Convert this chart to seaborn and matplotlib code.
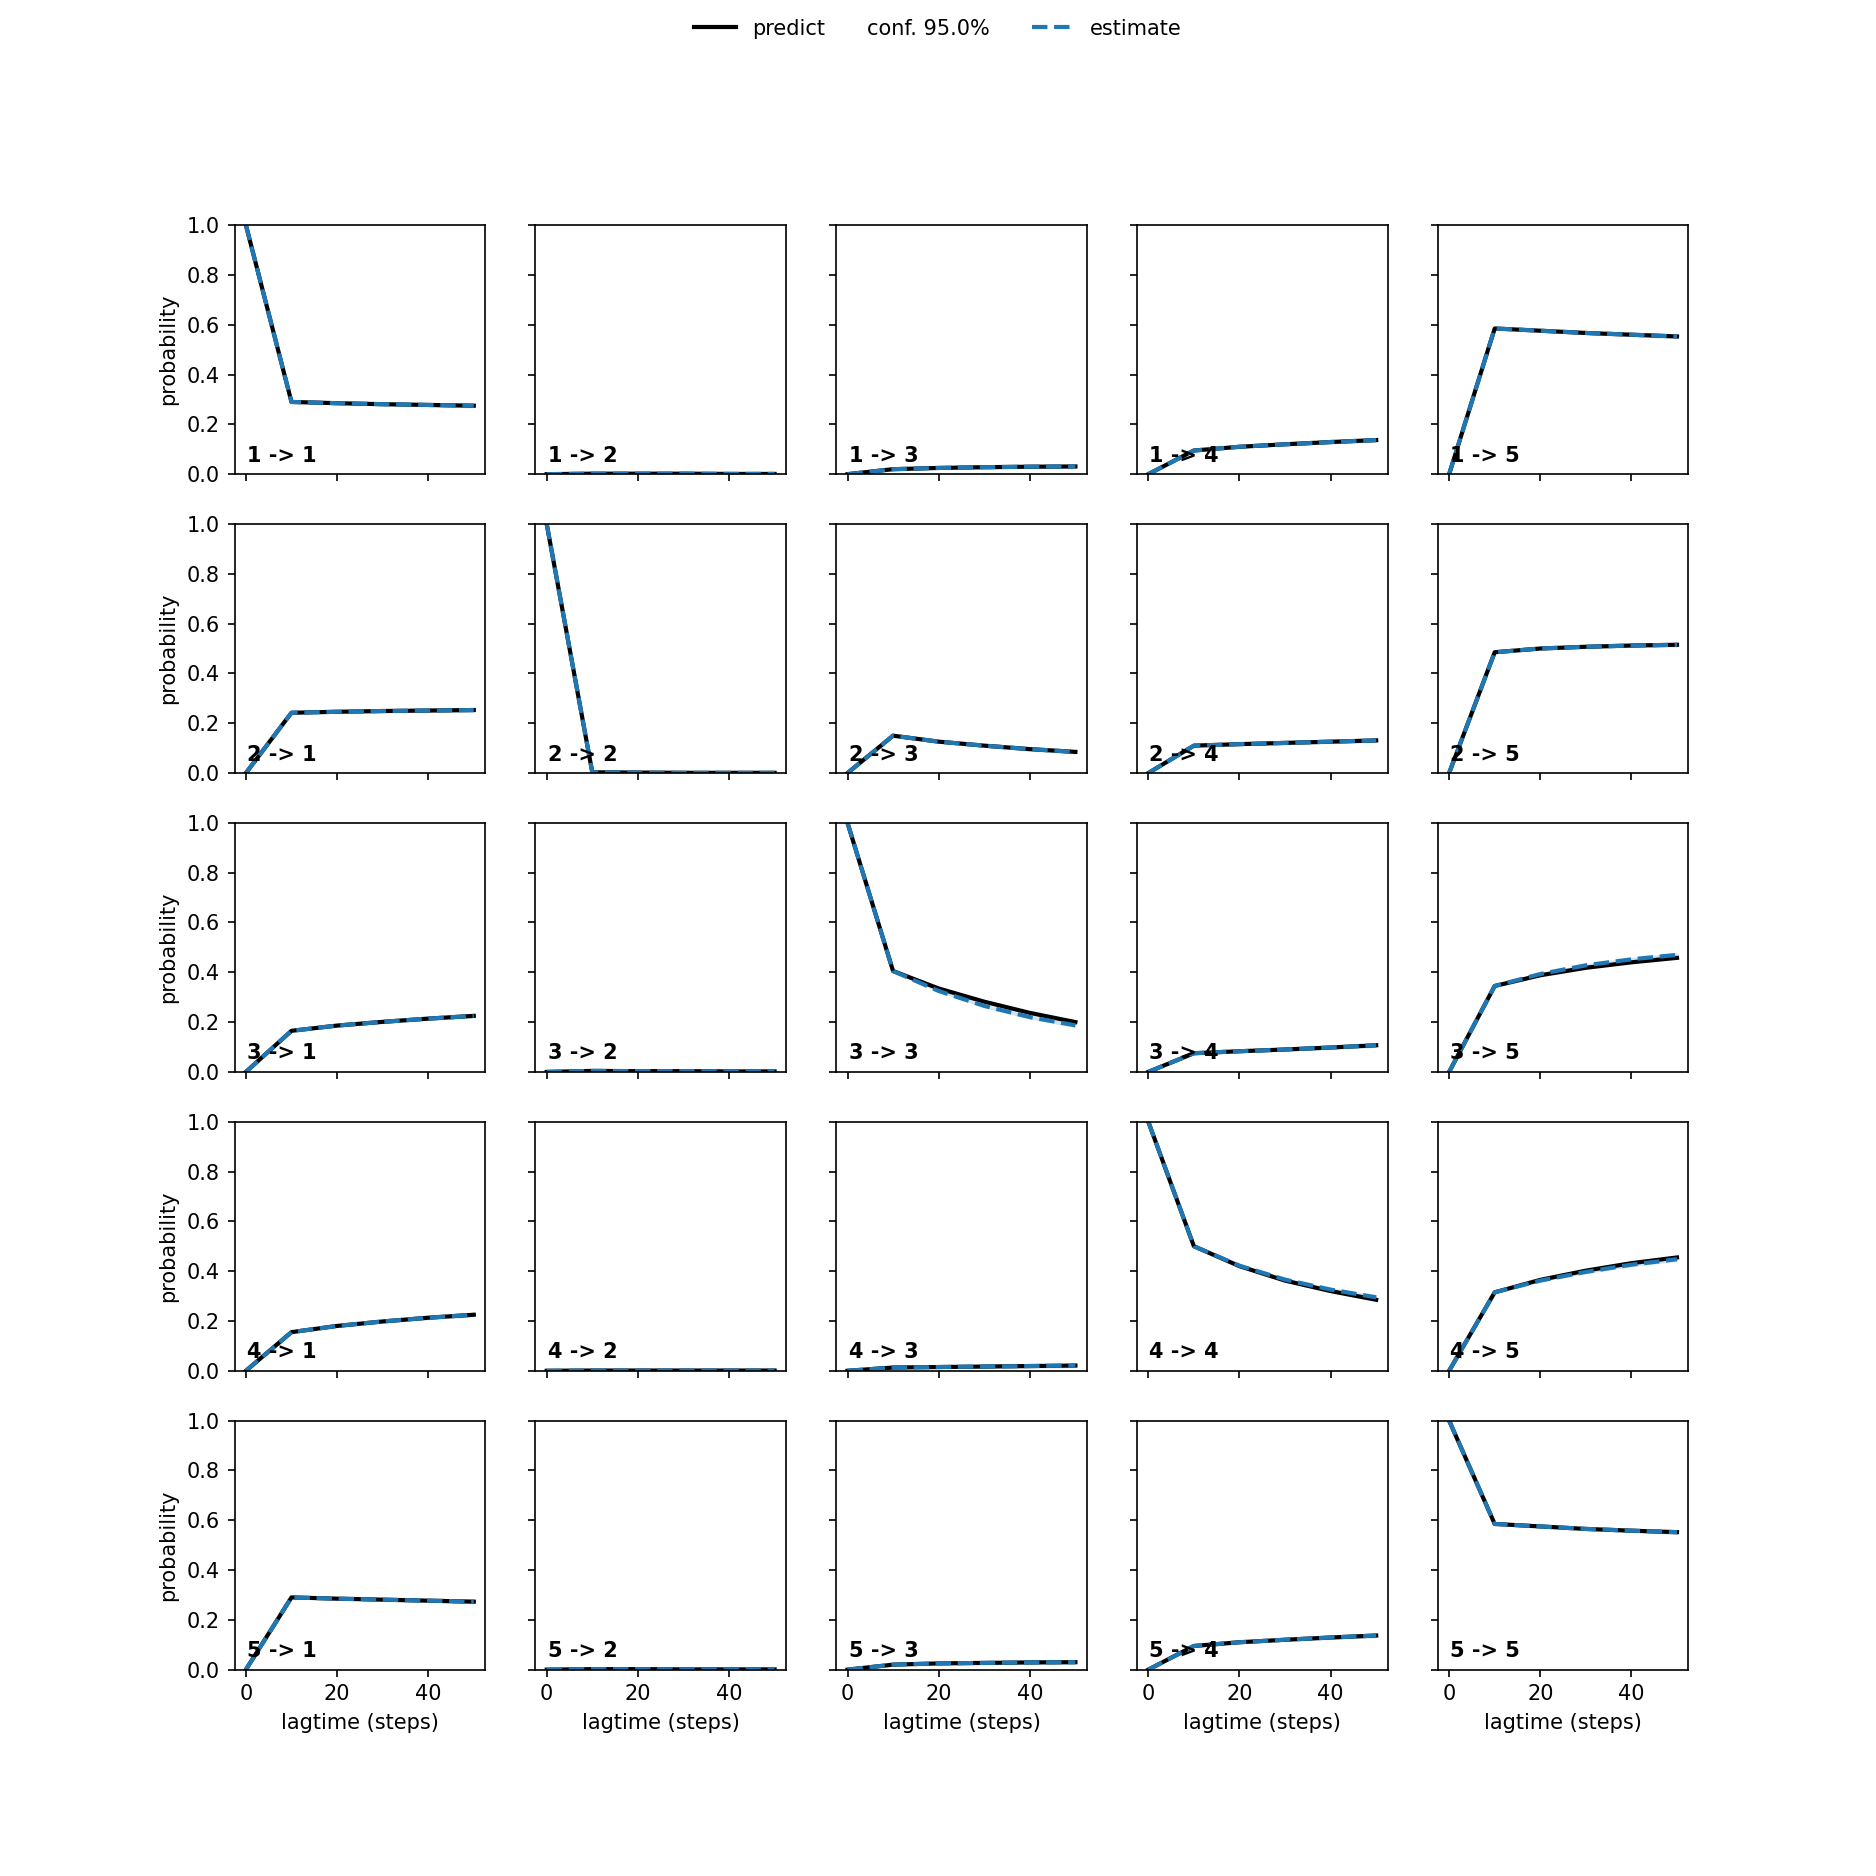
import numpy as np
import pandas as pd
import matplotlib
matplotlib.use('Agg')
import matplotlib.pyplot as plt
import seaborn as sns
from matplotlib.lines import Line2D
from matplotlib.patches import Patch

# lag times in steps
lags = [0, 10, 20, 30, 40, 50]
states = [1, 2, 3, 4, 5]

# model prediction, one list per (from, to) pair
predict = {
    (1, 1): [1.0, 0.290, 0.285, 0.281, 0.278, 0.275],
    (1, 2): [0.0, 0.002, 0.002, 0.002, 0.001, 0.001],
    (1, 3): [0.0, 0.020, 0.025, 0.028, 0.030, 0.031],
    (1, 4): [0.0, 0.095, 0.110, 0.120, 0.129, 0.137],
    (1, 5): [0.0, 0.585, 0.576, 0.567, 0.560, 0.553],
    (2, 1): [0.0, 0.242, 0.246, 0.249, 0.251, 0.253],
    (2, 2): [1.0, 0.003, 0.002, 0.001, 0.001, 0.001],
    (2, 3): [0.0, 0.150, 0.126, 0.110, 0.096, 0.085],
    (2, 4): [0.0, 0.110, 0.116, 0.121, 0.126, 0.131],
    (2, 5): [0.0, 0.485, 0.500, 0.507, 0.512, 0.515],
    (3, 1): [0.0, 0.165, 0.186, 0.201, 0.214, 0.225],
    (3, 2): [0.0, 0.004, 0.003, 0.003, 0.002, 0.002],
    (3, 3): [1.0, 0.405, 0.335, 0.282, 0.237, 0.200],
    (3, 4): [0.0, 0.075, 0.083, 0.090, 0.098, 0.107],
    (3, 5): [0.0, 0.345, 0.388, 0.418, 0.440, 0.458],
    (4, 1): [0.0, 0.155, 0.180, 0.198, 0.213, 0.225],
    (4, 2): [0.0, 0.001, 0.001, 0.001, 0.001, 0.001],
    (4, 3): [0.0, 0.013, 0.015, 0.017, 0.019, 0.021],
    (4, 4): [1.0, 0.500, 0.420, 0.362, 0.320, 0.285],
    (4, 5): [0.0, 0.315, 0.365, 0.402, 0.432, 0.455],
    (5, 1): [0.0, 0.290, 0.285, 0.281, 0.277, 0.273],
    (5, 2): [0.0, 0.002, 0.002, 0.001, 0.001, 0.001],
    (5, 3): [0.0, 0.020, 0.025, 0.027, 0.029, 0.030],
    (5, 4): [0.0, 0.095, 0.110, 0.120, 0.129, 0.137],
    (5, 5): [1.0, 0.585, 0.575, 0.565, 0.558, 0.552],
}

# estimates only differ visibly in a few panels
estimate = dict(predict)
estimate[(3, 3)] = [1.0, 0.405, 0.325, 0.265, 0.220, 0.187]
estimate[(3, 5)] = [0.0, 0.345, 0.393, 0.428, 0.452, 0.470]
estimate[(4, 4)] = [1.0, 0.500, 0.422, 0.366, 0.326, 0.295]
estimate[(4, 5)] = [0.0, 0.315, 0.362, 0.397, 0.426, 0.448]

# half width of the 95% confidence band
conf_half = [0.0, 0.003, 0.005, 0.007, 0.008, 0.009]

fig, axes = plt.subplots(5, 5, sharex=True, sharey=True, figsize=(12.5, 12.5))

for i, s_from in enumerate(states):
    for j, s_to in enumerate(states):
        ax = axes[i, j]
        est = np.array(estimate[(s_from, s_to)])
        ax.fill_between(lags, est - np.array(conf_half), est + np.array(conf_half),
                        color='C0', alpha=0.2, lw=0)
        sns.lineplot(x=lags, y=predict[(s_from, s_to)], ax=ax, color='k', lw=2)
        sns.lineplot(x=lags, y=est, ax=ax, color='C0', lw=2, linestyle='--')
        ax.text(0.05, 0.05, '%d -> %d' % (s_from, s_to), transform=ax.transAxes,
                weight='bold', fontsize=10)
        ax.set_ylim(0, 1)
        if j == 0:
            ax.set_ylabel('probability')
        if i == 4:
            ax.set_xlabel('lagtime (steps)')

ax.set_xticks([0, 20, 40])
ax.set_yticks([0, 0.2, 0.4, 0.6, 0.8, 1.0])

handles = [Line2D([], [], color='k', lw=2),
           Patch(facecolor='none', edgecolor='none'),
           Line2D([], [], color='C0', lw=2, linestyle='--')]
leg = fig.legend(handles, ['predict', 'conf. 95.0%', 'estimate'], loc='upper center',
                 ncol=3, frameon=False, bbox_to_anchor=(0.5, 1.0))
# the confidence entry shows no handle, drop its empty slot
conf_item = leg._legend_handle_box.get_children()[1].get_children()[0]
conf_item._children = [conf_item._children[1]]

fig.savefig('out.png', dpi=150.08)
